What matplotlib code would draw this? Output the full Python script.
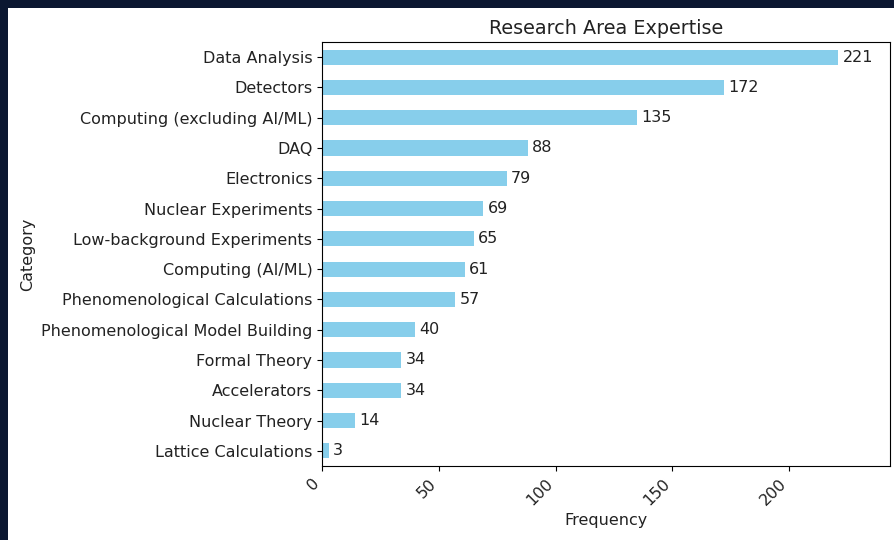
import matplotlib
matplotlib.use("Agg")
import matplotlib.pyplot as plt
from matplotlib.patches import Rectangle

# Data (bottom to top)
categories = ["Lattice Calculations", "Nuclear Theory", "Accelerators", "Formal Theory",
              "Phenomenological Model Building", "Phenomenological Calculations",
              "Computing (AI/ML)", "Low-background Experiments", "Nuclear Experiments",
              "Electronics", "DAQ", "Computing (excluding AI/ML)", "Detectors", "Data Analysis"]
counts = [3, 14, 34, 34, 40, 57, 61, 65, 69, 79, 88, 135, 172, 221]

plt.rcParams["font.size"] = 11.5
plt.rcParams["text.color"] = "#222222"
plt.rcParams["xtick.labelcolor"] = "#222222"
plt.rcParams["ytick.labelcolor"] = "#222222"
plt.rcParams["axes.labelcolor"] = "#222222"

fig = plt.figure(figsize=(8.94, 5.4), dpi=100, facecolor="#0b1731")
# white canvas, leaving the dark strip at top and left like the screenshot
fig.patches.append(Rectangle((8/894, 0), 1, 1 - 8/540, transform=fig.transFigure,
                             facecolor="white", edgecolor="none", zorder=-1))

ax = fig.add_axes([322/894, 1 - 466/540, (890-322)/894, (466-42)/540])
ypos = range(len(categories))
bars = ax.barh(ypos, counts, height=0.5, color="skyblue")
ax.bar_label(bars, padding=3)
ax.set_yticks(ypos, categories)
ax.set_ylim(-0.5, len(categories) - 0.5)
ax.set_xlim(0, max(counts) * 1.1)
ax.set_title("Research Area Expertise", fontsize=13.8)
ax.set_xlabel("Frequency")
ax.set_ylabel("Category")
plt.setp(ax.get_xticklabels(), rotation=45, ha="right")

fig.savefig("out.png", dpi=100, facecolor=fig.get_facecolor())
